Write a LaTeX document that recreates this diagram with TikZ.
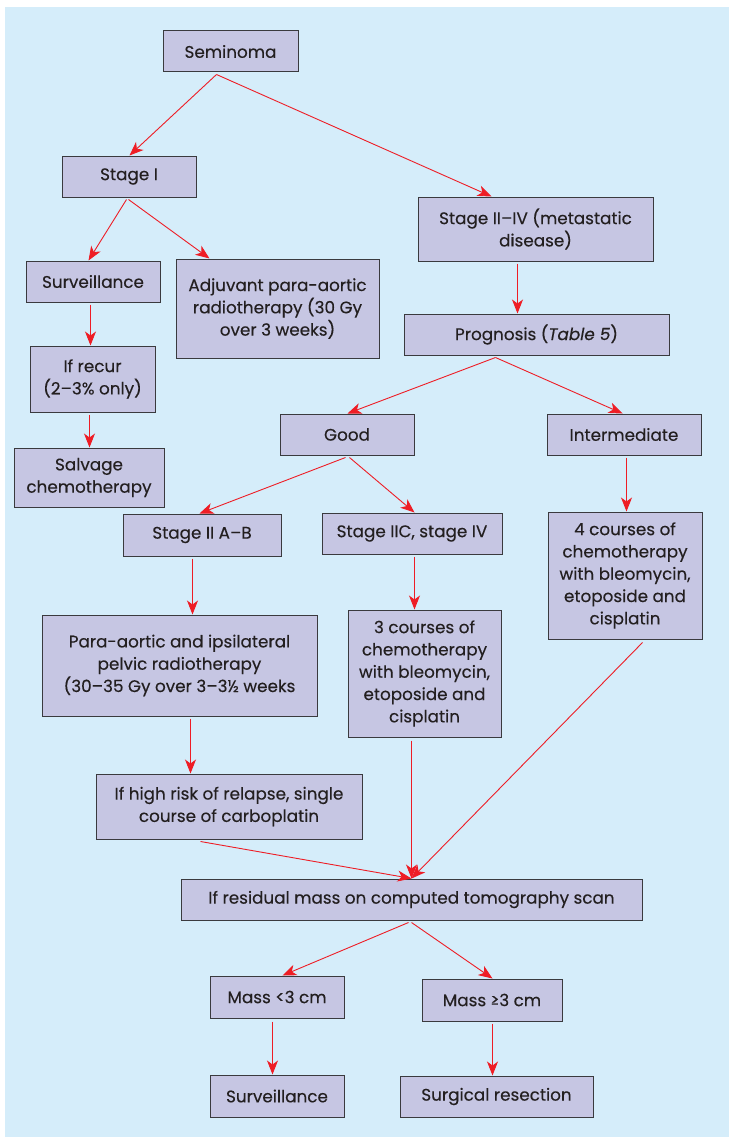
\documentclass[tikz,border=0pt]{standalone}
\usepackage{fontspec}
\setmainfont{Poppins}[FakeBold=0.25]
\usetikzlibrary{arrows.meta,calc}
\definecolor{bgblue}{HTML}{D5EDFA}
\definecolor{boxfill}{HTML}{C6C6E3}
\definecolor{boxline}{HTML}{3A3A3E}
\definecolor{arrred}{HTML}{EE1D25}
\definecolor{txt}{HTML}{231F20}
\tikzset{
  box/.style={draw=boxline, line width=1pt, fill=boxfill, rectangle, align=center,
    inner sep=0pt, text=txt, font=\fontsize{16.8}{22.3}\selectfont},
  arr/.style={draw=arrred, line width=0.9pt, -{Stealth[length=14pt,width=11pt,inset=4pt]}},
}
\begin{document}
\begin{tikzpicture}[x=1pt,y=-1pt]
\useasboundingbox (0,0) rectangle (729,1137);
\fill[bgblue] (5,7) rectangle (729,1137);

\node[box, minimum width=135, minimum height=41] (sem) at (230.5,51.5) {Seminoma};
\node[box, minimum width=134, minimum height=41] (st1) at (129,176.5) {Stage I};
\node[box, minimum width=235, minimum height=64] (st2) at (535.5,229) {Stage II–IV (metastatic\\disease)};
\node[box, minimum width=134, minimum height=41] (surv) at (93,281.5) {Surveillance};
\node[box, minimum width=203, minimum height=99] (adj) at (277.5,308.5) {Adjuvant para-aortic\\radiotherapy (30 Gy\\over 3 weeks)};
\node[box, minimum width=125, minimum height=66] (recur) at (92.5,379) {If recur\\(2–3\% only)};
\node[box, minimum width=150, minimum height=59] (salv) at (89,477.5) {Salvage\\chemotherapy};
\node[box, minimum width=265, minimum height=41] (prog) at (536.5,334.5) {Prognosis (\textit{Table 5})};
\node[box, minimum width=134, minimum height=41] (good) at (347,434.5) {Good};
\node[box, minimum width=154, minimum height=41] (inter) at (624,434.5) {Intermediate};
\node[box, minimum width=158, minimum height=42] (s2ab) at (202,535) {Stage II A–B};
\node[box, minimum width=180, minimum height=41] (s2c) at (412,533.5) {Stage IIC, stage IV};
\node[box, minimum width=154, minimum height=127] (four) at (625,575.5) {4 courses of\\chemotherapy\\with bleomycin,\\etoposide and\\cisplatin};
\node[box, minimum width=275, minimum height=101] (para) at (179.5,665.5) {Para-aortic and ipsilateral\\pelvic radiotherapy\\(30–35 Gy over 3–3½ weeks};
\node[box, minimum width=153, minimum height=127] (three) at (424.5,673.5) {3 courses of\\chemotherapy\\with bleomycin,\\etoposide and\\cisplatin};
\node[box, minimum width=266, minimum height=65] (high) at (229,806.5) {If high risk of relapse, single\\course of carboplatin};
\node[box, minimum width=461, minimum height=41] (resid) at (411.5,899.5) {If residual mass on computed tomography scan};
\node[box, minimum width=134, minimum height=42] (m3) at (277,997) {Mass <3 cm};
\node[box, minimum width=140, minimum height=42] (mge) at (492,1000) {Mass ≥3 cm};
\node[box, minimum width=134, minimum height=42] (surv2) at (277,1096) {Surveillance};
\node[box, minimum width=193, minimum height=41] (surg) at (496.5,1096.5) {Surgical resection};

\draw[arr] ($(sem.south west)+(54,2)$) -- ($(st1.north west)+(68,0)$);
\draw[arr] ($(sem.south west)+(54,2)$) -- ($(st2.north west)+(74,0)$);
\draw[arr] ($(st1.south west)+(65,2)$) -- ($(surv.north west)+(63,0)$);
\draw[arr] ($(st1.south west)+(67,2)$) -- ($(adj.north west)+(34,0)$);
\draw[arr] ($(surv.south west)+(65,2)$) -- ($(recur.north west)+(61,0)$);
\draw[arr] ($(recur.south west)+(60,2)$) -- ($(salv.north west)+(76,0)$);
\draw[arr] ($(st2.south west)+(100,2)$) -- ($(prog.north west)+(114,0)$);
\draw[arr] ($(prog.south west)+(92,2)$) -- ($(good.north west)+(68,0)$);
\draw[arr] ($(prog.south west)+(92,2)$) -- ($(inter.north west)+(76,0)$);
\draw[arr] ($(good.south west)+(66,2)$) -- ($(s2ab.north west)+(77,0)$);
\draw[arr] ($(good.south west)+(70,2)$) -- ($(s2c.north west)+(93,0)$);
\draw[arr] ($(inter.south west)+(80,2)$) -- ($(four.north west)+(79,0)$);
\draw[arr] ($(s2c.south west)+(93,2)$) -- ($(three.north west)+(67,0)$);
\draw[arr] ($(s2ab.south west)+(70,2)$) -- ($(para.north west)+(151,0)$);
\draw[arr] ($(para.south west)+(149,2)$) -- ($(high.north west)+(95,0)$);
\draw[arr] ($(high.south west)+(105,2)$) -- ($(resid.north west)+(231,0)$);
\draw[arr] ($(three.south west)+(64,3)$) -- ($(resid.north west)+(231,0)$);
\draw[arr] ($(four.south west)+(95,3)$) -- ($(resid.north west)+(231,0)$);
\draw[arr] ($(resid.south west)+(228,2)$) -- ($(m3.north west)+(73,0)$);
\draw[arr] ($(resid.south west)+(231,2)$) -- ($(mge.north west)+(71,0)$);
\draw[arr] ($(mge.south west)+(71,2)$) -- ($(surg.north west)+(93,0)$);
\draw[arr] ($(m3.south west)+(63,3)$) -- ($(surv2.north west)+(63,0)$);
\end{tikzpicture}
\end{document}
